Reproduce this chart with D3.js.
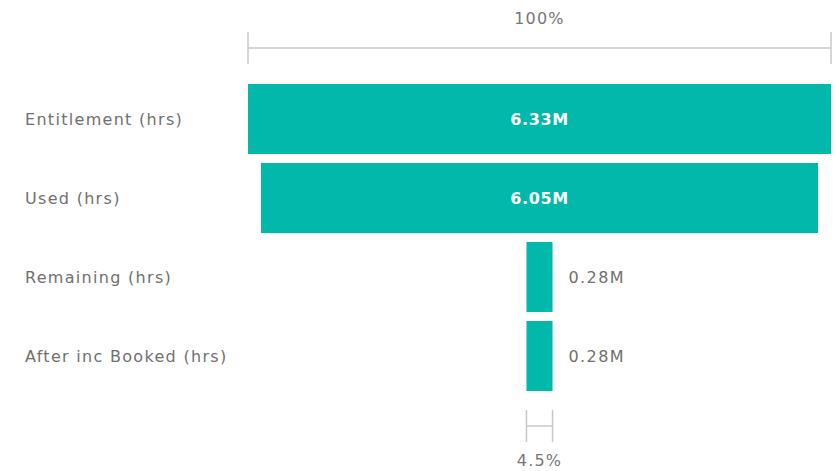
<!DOCTYPE html>
<html>
<head>
<meta charset="utf-8">
<script src="https://cdn.jsdelivr.net/npm/d3@7"></script>
<style>
  body { margin: 0; background: #fff; }
  text { font-family: "DejaVu Sans", sans-serif; }
</style>
</head>
<body>
<div id="funnel"></div>
<script>
// Data
const stages = ["Entitlement (hrs)", "Used (hrs)", "Remaining (hrs)", "After inc Booked (hrs)"];
const values = [6334000, 6051000, 283000, 283000];

const width = 836;
const height = 471;

const svg = d3.select("#funnel")
    .append("svg")
    .attr("width", width)
    .attr("height", height);

// Funnel widths are relative to the biggest stage
const w = d3.scaleLinear()
    .domain([0, d3.max(values)])
    .range([0, 583]);

const cx = 539.5;

const y = d3.scaleBand()
    .domain(stages)
    .range([79.5, 395.5])
    .paddingInner(0.114)
    .paddingOuter(0.057);

const fmtM = v => (v / 1e6).toFixed(2) + "M";
const fmtPct = d3.format(".1~%");

const rows = svg.selectAll("g.row")
    .data(stages.map((s, i) => ({ stage: s, value: values[i] })))
    .join("g")
    .attr("class", "row");

// Category labels
rows.append("text")
    .attr("x", 25)
    .attr("y", d => y(d.stage) + y.bandwidth() / 2)
    .attr("dy", "0.35em")
    .attr("font-size", 16)
    .attr("letter-spacing", 1.3)
    .attr("fill", "#707070")
    .text(d => d.stage);

// Bars
rows.append("rect")
    .attr("x", d => cx - w(d.value) / 2)
    .attr("y", d => y(d.stage))
    .attr("width", d => w(d.value))
    .attr("height", y.bandwidth())
    .attr("fill", "#01B8AA");

// Value labels: inside when the bar is wide, to the right otherwise
const inside = d => w(d.value) > 60;
rows.append("text")
    .attr("x", d => inside(d) ? cx : cx + w(d.value) / 2 + 16)
    .attr("y", d => y(d.stage) + y.bandwidth() / 2)
    .attr("dy", "0.35em")
    .attr("text-anchor", d => inside(d) ? "middle" : "start")
    .attr("font-size", 16)
    .attr("letter-spacing", d => inside(d) ? 0.6 : 1.4)
    .attr("font-weight", d => inside(d) ? "bold" : "normal")
    .attr("fill", d => inside(d) ? "#fff" : "#707070")
    .text(d => fmtM(d.value));

// Percentage brackets (first stage on top, last stage at the bottom)
function bracket(v, yLine, tickH, labelY) {
    const x0 = cx - w(v) / 2, x1 = cx + w(v) / 2;
    const g = svg.append("g")
        .attr("stroke", "#c8c8c8")
        .attr("stroke-width", 1.5);
    g.append("line").attr("x1", x0).attr("x2", x1).attr("y1", yLine).attr("y2", yLine);
    g.append("line").attr("x1", x0).attr("x2", x0).attr("y1", yLine - tickH).attr("y2", yLine + tickH);
    g.append("line").attr("x1", x1).attr("x2", x1).attr("y1", yLine - tickH).attr("y2", yLine + tickH);
    svg.append("text")
        .attr("x", cx)
        .attr("y", labelY)
        .attr("dy", "0.35em")
        .attr("text-anchor", "middle")
        .attr("font-size", 16)
        .attr("letter-spacing", 1.2)
        .attr("fill", "#777")
        .text(fmtPct(v / values[0]));
}

bracket(values[0], 48, 16, 18);
bracket(values[values.length - 1], 426, 16, 460);
</script>
</body>
</html>
